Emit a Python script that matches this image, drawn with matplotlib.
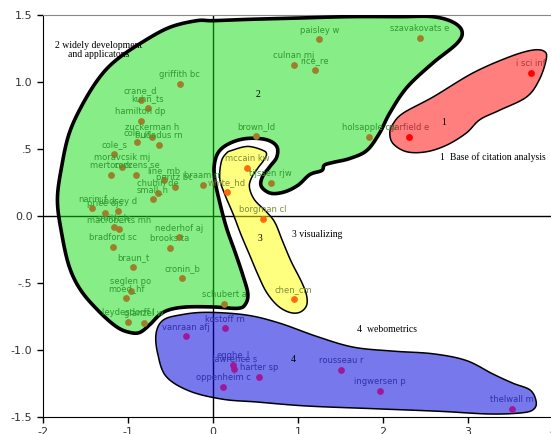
import numpy as np
import matplotlib
matplotlib.use('Agg')
import matplotlib.pyplot as plt
from matplotlib.ticker import FixedLocator, FixedFormatter

# cluster 2 (green): widely development and applications
green_names = ["griffith bc", "crane_d", "kuhn_ts", "hamilton dp", "zuckerman h", "cole_jr",
               "budadus rn", "cole_s", "moravcsik mj", "merton rk", "cozzens se", "line_mb",
               "peritz bc", "braam rr", "chubin de", "small_h", "narin_f", "price djs",
               "lindsey d", "smith_lc", "macroberts mh", "nederhof aj", "bradford sc",
               "brooks ta", "braun_t", "cronin_b", "seglen po", "moed_hf", "leydesdorff l",
               "glanzel w", "schubert a", "paisley w", "szavakovats e", "culnan mj", "rice_re",
               "brown_ld", "holsapple cw", "tijssen rjw"]
green_x = [-0.39, -0.85, -0.77, -0.85, -0.72, -0.89, -0.64, -1.16, -1.07, -1.20, -0.90, -0.58,
           -0.45, -0.12, -0.65, -0.71, -1.42, -1.27, -1.12, -1.16, -1.11, -0.40, -1.18,
           -0.51, -0.94, -0.36, -0.97, -1.02, -1.00, -0.81, 0.13, 1.25, 2.43, 0.95, 1.20,
           0.51, 1.84, 0.68]
green_y = [0.99, 0.87, 0.81, 0.71, 0.59, 0.55, 0.53, 0.46, 0.37, 0.31, 0.31, 0.27,
           0.22, 0.23, 0.17, 0.13, 0.06, 0.02, 0.04, -0.08, -0.10, -0.16, -0.23,
           -0.24, -0.38, -0.46, -0.56, -0.61, -0.79, -0.80, -0.66, 1.32, 1.33, 1.13, 1.09,
           0.60, 0.59, 0.25]

# cluster 3 (yellow): visualizing
yellow_names = ["mccain kw", "white_hd", "borgman cl", "chen_cm"]
yellow_x = [0.40, 0.16, 0.59, 0.95]
yellow_y = [0.36, 0.18, -0.02, -0.62]

# cluster 1 (red): base of citation analysis
red_names = ["garfield e", "i sci inf"]
red_x = [2.31, 3.74]
red_y = [0.59, 1.07]

# cluster 4 (blue): webometrics
blue_names = ["kostoff rn", "vanraan afj", "egghe_l", "lawrence s", "harter sp",
              "oppenheim c", "rousseau r", "ingwersen p", "thelwall m"]
blue_x = [0.14, -0.32, 0.24, 0.25, 0.54, 0.12, 1.51, 1.96, 3.52]
blue_y = [-0.84, -0.90, -1.11, -1.14, -1.20, -1.28, -1.15, -1.31, -1.44]

x_ticks = [-2, -1, 0, 1, 2, 3, 4]
x_tick_labels = ["-2", "-1", "0", "1", "2", "3", "4"]
y_ticks = [1.5, 1.0, 0.5, 0.0, -0.5, -1.0, -1.5]
y_tick_labels = ["1.5", "1.0", ".5", "0.0", "-.5", "-1.0", "-1.5"]

# hand drawn cluster outlines (data units)
green_outline = [(0.00, 1.46), (0.43, 1.47), (1.02, 1.48), (1.61, 1.49), (2.20, 1.49), (2.58, 1.49),
                 (2.82, 1.45), (2.93, 1.38), (2.87, 1.29), (2.58, 1.14), (2.28, 0.96), (2.08, 0.77),
                 (1.96, 0.62), (1.81, 0.49), (1.61, 0.43), (1.41, 0.40), (1.31, 0.38), (1.28, 0.34),
                 (1.14, 0.31), (1.00, 0.23), (0.84, 0.18), (0.68, 0.17), (0.57, 0.22), (0.58, 0.29),
                 (0.67, 0.37), (0.75, 0.44), (0.75, 0.52), (0.63, 0.57), (0.41, 0.58), (0.22, 0.55),
                 (0.08, 0.49), (0.02, 0.40), (0.02, 0.28), (0.08, 0.10), (0.16, -0.09), (0.26, -0.27),
                 (0.35, -0.44), (0.41, -0.58), (0.38, -0.66), (0.29, -0.69), (0.00, -0.68),
                 (-0.31, -0.68), (-0.51, -0.70), (-0.63, -0.74), (-0.74, -0.81), (-0.86, -0.87),
                 (-0.98, -0.87), (-1.13, -0.83), (-1.33, -0.72), (-1.55, -0.56), (-1.69, -0.38),
                 (-1.78, -0.13), (-1.83, 0.12), (-1.78, 0.37), (-1.69, 0.62), (-1.53, 0.84),
                 (-1.33, 1.04), (-1.13, 1.17), (-0.83, 1.30), (-0.51, 1.41), (-0.19, 1.46)]
yellow_outline = [(0.22, 0.49), (0.41, 0.52), (0.59, 0.49), (0.63, 0.46), (0.59, 0.41), (0.53, 0.36),
                  (0.45, 0.28), (0.43, 0.21), (0.49, 0.12), (0.63, 0.03), (0.73, -0.05), (0.82, -0.19),
                  (0.92, -0.34), (1.04, -0.49), (1.10, -0.59), (1.10, -0.67), (1.02, -0.72),
                  (0.90, -0.72), (0.76, -0.67), (0.63, -0.57), (0.53, -0.44), (0.43, -0.29),
                  (0.33, -0.14), (0.24, 0.01), (0.14, 0.16), (0.08, 0.28), (0.10, 0.41), (0.16, 0.47)]
red_outline = [(2.08, 0.62), (2.12, 0.69), (2.24, 0.77), (2.59, 0.89), (3.06, 1.07), (3.49, 1.19),
               (3.76, 1.24), (3.90, 1.23), (3.92, 1.17), (3.84, 1.02), (3.69, 0.89), (3.37, 0.79),
               (3.14, 0.72), (2.98, 0.62), (2.75, 0.53), (2.51, 0.48), (2.28, 0.48), (2.12, 0.54)]
blue_outline = [(0.39, -0.74), (0.78, -0.80), (1.22, -0.90), (1.65, -0.98), (2.12, -1.01), (2.59, -1.03),
                (2.98, -1.08), (3.29, -1.18), (3.53, -1.25), (3.73, -1.30), (3.80, -1.38), (3.78, -1.44),
                (3.65, -1.47), (3.26, -1.48), (2.67, -1.46), (1.88, -1.44), (1.10, -1.42), (0.51, -1.39),
                (0.12, -1.37), (-0.27, -1.31), (-0.55, -1.20), (-0.65, -1.03), (-0.67, -0.88),
                (-0.59, -0.78), (-0.39, -0.74), (-0.08, -0.72)]


def smooth_closed(pts, n=12):
    # closed catmull-rom spline through the outline points
    p = np.asarray(pts, dtype=float)
    m = len(p)
    t = np.linspace(0, 1, n, endpoint=False)[:, None]
    out = []
    for i in range(m):
        p0, p1, p2, p3 = p[i - 1], p[i], p[(i + 1) % m], p[(i + 2) % m]
        seg = 0.5 * (2 * p1 + (-p0 + p2) * t + (2 * p0 - 5 * p1 + 4 * p2 - p3) * t ** 2
                     + (-p0 + 3 * p1 - 3 * p2 + p3) * t ** 3)
        out.append(seg)
    return np.vstack(out)


fig = plt.figure(figsize=(5.51, 4.34), dpi=100)
ax = fig.add_axes([0.078, 0.0399, 0.9256, 0.9248])
ax.set_xlim(-2, 4)
ax.set_ylim(-1.5, 1.5)

ax.axhline(0, color='black', lw=1, zorder=1)
ax.axvline(0, color='black', lw=1, zorder=1)

# translucent fills so the zero lines show through, as in the original
blobs = [(green_outline, '#11dd11', 0.5, 2.6), (yellow_outline, '#ffff00', 0.5, 1.1),
         (red_outline, '#ff0000', 0.5, 1.1), (blue_outline, '#0000dd', 0.53, 1.1)]
for outline, col, alpha, lw in blobs:
    s = smooth_closed(outline)
    ax.fill(s[:, 0], s[:, 1], color=col, alpha=alpha, lw=0, zorder=2)
    ax.fill(s[:, 0], s[:, 1], facecolor='none', edgecolor='black', lw=lw, zorder=3)

groups = [(green_names, green_x, green_y, '#a07d28', '#2f9a2f'),
          (yellow_names, yellow_x, yellow_y, '#ff6a10', '#7f8a3a'),
          (red_names, red_x, red_y, '#ff0000', '#a83838'),
          (blue_names, blue_x, blue_y, '#a0189a', '#3030a8')]
for names, xs, ys, dot_col, txt_col in groups:
    ax.scatter(xs, ys, s=24, color=dot_col, zorder=4, linewidths=0)
    for name, x, y in zip(names, xs, ys):
        ax.annotate(name, (x, y), xytext=(0, 3.5), textcoords='offset points',
                    ha='center', va='bottom', fontsize=6, color=txt_col, zorder=5)

serif = dict(family='Liberation Serif', fontsize=7, color='black', zorder=2.5)
ax.text(-1.34, 1.24, "2 widely development\nand applicatons", ha='center', va='center',
        multialignment='center', linespacing=1.1, **serif)
ax.text(0.53, 0.91, "2", ha='center', va='center', **serif)
ax.text(2.71, 0.70, "1", ha='center', va='center', **serif)
ax.text(2.67, 0.44, "1  Base of citation analysis", ha='left', va='center', **serif)
ax.text(0.55, -0.17, "3", ha='center', va='center', **serif)
ax.text(0.93, -0.14, "3 visualizing", ha='left', va='center', **serif)
ax.text(0.95, -1.07, "4", ha='center', va='center', **serif)
ax.text(1.70, -0.85, "4  webometrics", ha='left', va='center', **serif)

ax.xaxis.set_major_locator(FixedLocator(x_ticks))
ax.xaxis.set_major_formatter(FixedFormatter(x_tick_labels))
ax.yaxis.set_major_locator(FixedLocator(y_ticks))
ax.yaxis.set_major_formatter(FixedFormatter(y_tick_labels))
ax.tick_params(labelsize=8, labelcolor='#333333', length=4, width=1, direction='out')
ax.spines['top'].set_color('#888888')
ax.spines['right'].set_visible(False)

fig.savefig("out.png", dpi=100)
